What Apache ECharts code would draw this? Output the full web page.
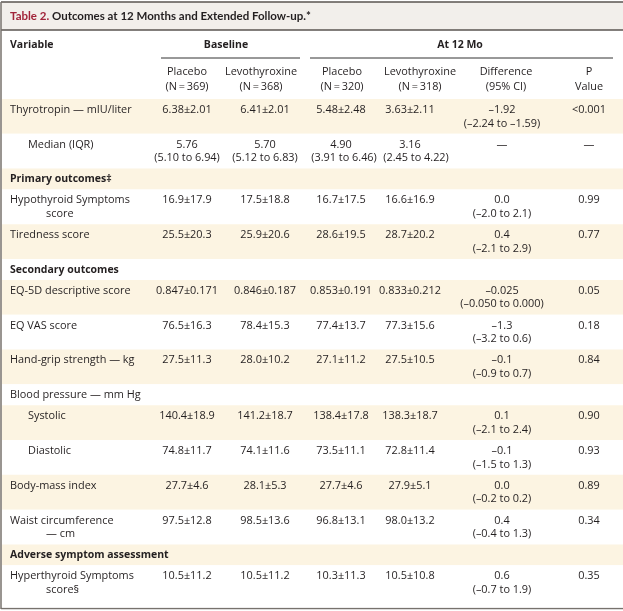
<!DOCTYPE html>
<html><head><meta charset="utf-8">
<script src="https://cdn.jsdelivr.net/npm/echarts@6/dist/echarts.min.js"></script>
<style>html,body{margin:0;padding:0;background:#fff}#chart{width:623px;height:611px}</style>
</head><body><div id="chart"></div>
<script>
// ---------- DATA ----------
const titleLead = "Table 2.";
const titleRest = " Outcomes at 12 Months and Extended Follow-up.*";
const variableHeader = "Variable";
const groupHeaders = ["Baseline", "At 12 Mo"];
const columnHeaders = [
  "Placebo\n(N\u2009=\u2009369)", "Levothyroxine\n(N\u2009=\u2009368)",
  "Placebo\n(N\u2009=\u2009320)", "Levothyroxine\n(N\u2009=\u2009318)",
  "Difference\n(95% CI)", "P\nValue"
];
const variables = [
  "Thyrotropin \u2014 mIU/liter", "Median (IQR)", "Primary outcomes\u2021",
  "Hypothyroid Symptoms\nscore", "Tiredness score", "Secondary outcomes",
  "EQ-5D descriptive score", "EQ VAS score", "Hand-grip strength \u2014 kg",
  "Blood pressure \u2014 mm Hg", "Systolic", "Diastolic", "Body-mass index",
  "Waist circumference\n\u2014 cm", "Adverse symptom assessment",
  "Hyperthyroid Symptoms\nscore\u00a7"
];
const rowKinds = ["data","sub","section","data","data","section","data","data","data",
  "group","sub","sub","data","data","section","data"];
const placeboBaseline = ["6.38\u00b12.01","5.76\n(5.10 to 6.94)","","16.9\u00b117.9","25.5\u00b120.3","",
  "0.847\u00b10.171","76.5\u00b116.3","27.5\u00b111.3","","140.4\u00b118.9","74.8\u00b111.7","27.7\u00b14.6",
  "97.5\u00b112.8","","10.5\u00b111.2"];
const levoBaseline = ["6.41\u00b12.01","5.70\n(5.12 to 6.83)","","17.5\u00b118.8","25.9\u00b120.6","",
  "0.846\u00b10.187","78.4\u00b115.3","28.0\u00b110.2","","141.2\u00b118.7","74.1\u00b111.6","28.1\u00b15.3",
  "98.5\u00b113.6","","10.5\u00b111.2"];
const placebo12 = ["5.48\u00b12.48","4.90\n(3.91 to 6.46)","","16.7\u00b117.5","28.6\u00b119.5","",
  "0.853\u00b10.191","77.4\u00b113.7","27.1\u00b111.2","","138.4\u00b117.8","73.5\u00b111.1","27.7\u00b14.6",
  "96.8\u00b113.1","","10.3\u00b111.3"];
const levo12 = ["3.63\u00b12.11","3.16\n(2.45 to 4.22)","","16.6\u00b116.9","28.7\u00b120.2","",
  "0.833\u00b10.212","77.3\u00b115.6","27.5\u00b110.5","","138.3\u00b118.7","72.8\u00b111.4","27.9\u00b15.1",
  "98.0\u00b113.2","","10.5\u00b110.8"];
const difference = ["\u20131.92\n(\u20132.24 to \u20131.59)","\u2014","","0.0\n(\u20132.0 to 2.1)","0.4\n(\u20132.1 to 2.9)","",
  "\u20130.025\n(\u20130.050 to 0.000)","\u20131.3\n(\u20133.2 to 0.6)","\u20130.1\n(\u20130.9 to 0.7)","",
  "0.1\n(\u20132.1 to 2.4)","\u20130.1\n(\u20131.5 to 1.3)","0.0\n(\u20130.2 to 0.2)","0.4\n(\u20130.4 to 1.3)","",
  "0.6\n(\u20130.7 to 1.9)"];
const pValue = ["<0.001","\u2014","","0.99","0.77","","0.05","0.18","0.84","","0.90","0.93","0.89","0.34","","0.35"];
const valueColumns = [placeboBaseline, levoBaseline, placebo12, levo12, difference, pValue];

// ---------- LAYOUT / STYLE ----------
const W = 623;
const FONT = '"Open Sans", "DejaVu Sans", sans-serif';
const TITLE_FONT = 'Lato, "Open Sans", sans-serif';
const FS = 10.9, FS_BOLD = 10.5, LH = 13.6;
const INK = '#231f20';
const CREAM = '#fcf4e2';
const L = {
  gridTop: 99, rowPx: 34.8,
  unit: {data: 1, sub: 1, section: 0.6, group: 0.6},
  labelX: {data: 10, sub: 28, section: 10, group: 10}, hangX: 46,
  valueX: [187, 265, 341, 410, 502, 589],
  valueX2: [187, 265, 344, 416, 502, 589],
  headerX: [187, 261, 342, 420, 506, 589],
  groupX: [226, 460], groupLine: [[161, 300], [310, 613]]
};
const rowStart = [];
let acc = 0;
rowKinds.forEach(k => { rowStart.push(acc); acc += L.unit[k]; });
const totalUnits = acc;

const bandData = rowKinds.map((k, i) => [0, rowStart[i], rowStart[i] + L.unit[k], i]);
const labelData = rowKinds.map((k, i) => [L.labelX[k], rowStart[i], i]);
const cellData = [];
valueColumns.forEach((col, c) => col.forEach((v, r) => { if (v) cellData.push([L.valueX[c], rowStart[r], r, c]); }));

function txt(x, y, text, o) {
  return {type: 'text', x: x, y: y, style: Object.assign({
    text: text, fill: INK, fontFamily: FONT, fontSize: FS, align: 'center',
    verticalAlign: 'top', lineHeight: LH}, o || {})};
}

const graphics = [
  {type: 'rect', shape: {x: 1, y: 2, width: W, height: 28}, style: {fill: '#f2efeb'}},
  {type: 'line', shape: {x1: 1, y1: 2, x2: W, y2: 2}, style: {stroke: '#5a5550', lineWidth: 1.5}},
  {type: 'line', shape: {x1: 1, y1: 30, x2: W, y2: 30}, style: {stroke: '#5a5550', lineWidth: 1.5}},
  {type: 'line', shape: {x1: 1, y1: 2, x2: 1, y2: 609}, style: {stroke: '#77726d', lineWidth: 1.5}},
  {type: 'line', shape: {x1: 1, y1: 608.5, x2: W, y2: 608.5}, style: {stroke: '#77726d', lineWidth: 1.5}},
  {type: 'text', x: 10, y: 16, style: {rich: {a: {fill: '#a1243a', fontWeight: 'bold', fontFamily: TITLE_FONT, fontSize: 11.5},
     b: {fill: INK, fontWeight: 'bold', fontFamily: TITLE_FONT, fontSize: 11.5}},
     text: '{a|' + titleLead + '}{b|' + titleRest + '}', align: 'left', verticalAlign: 'middle'}},
  txt(10, 38, variableHeader, {align: 'left', fontWeight: 'bold', fontSize: FS_BOLD})
];
groupHeaders.forEach((g, i) => {
  graphics.push(txt(L.groupX[i], 38, g, {fontWeight: 'bold', fontSize: FS_BOLD}));
  graphics.push({type: 'line', shape: {x1: L.groupLine[i][0], y1: 58, x2: L.groupLine[i][1], y2: 58},
    style: {stroke: '#333', lineWidth: 1}});
});
columnHeaders.forEach((h, i) => graphics.push(txt(L.headerX[i], 65, h, {lineHeight: 14.5})));

const chart = echarts.init(document.getElementById('chart'), null, {renderer: 'canvas'});
chart.setOption({
  animation: false,
  backgroundColor: '#fff',
  grid: {left: 0, right: 0, top: L.gridTop, height: totalUnits * L.rowPx, containLabel: false},
  xAxis: {type: 'value', min: 0, max: W, show: false},
  yAxis: {type: 'value', min: 0, max: totalUnits, inverse: true, show: false},
  graphic: graphics,
  series: [
    {type: 'custom', clip: false, z: 1, data: bandData, encode: {x: 0, y: [1, 2]},
     renderItem: function (p, api) {
       const a = api.coord([0, api.value(1)]);
       const last = api.value(3) === rowKinds.length - 1;
       const b = api.coord([W, api.value(2)]);
       return {type: 'rect', shape: {x: a[0] + 2, y: a[1], width: b[0] - a[0] - 2,
         height: (last ? 607.5 - a[1] : b[1] - a[1])},
         style: {fill: api.value(3) % 2 === 0 ? CREAM : '#ffffff'}};
     }},
    {type: 'custom', clip: false, z: 3, data: labelData, encode: {x: 0, y: 1},
     renderItem: function (p, api) {
       const r = api.value(2);
       const pt = api.coord([api.value(0), api.value(1)]);
       const hang = api.coord([L.hangX, api.value(1)]);
       const kind = rowKinds[r];
       const lines = variables[r].split('\n');
       const bold = kind === 'section';
       const children = lines.map((ln, j) => txt(j === 0 ? pt[0] : hang[0], pt[1] + 4 + j * LH, ln,
         {align: 'left', fontWeight: bold ? 'bold' : 'normal', fontSize: bold ? FS_BOLD : FS}));
       return {type: 'group', children: children};
     }},
    {type: 'custom', clip: false, z: 3, data: cellData, encode: {x: 0, y: 1},
     renderItem: function (p, api) {
       const r = api.value(2), c = api.value(3);
       const pt = api.coord([api.value(0), api.value(1)]);
       const pt2 = api.coord([L.valueX2[c], api.value(1)]);
       const lines = valueColumns[c][r].split('\n');
       return {type: 'group', children: lines.map((ln, j) =>
         txt(j === 0 ? pt[0] : pt2[0], pt[1] + 4 + j * LH, ln))};
     }}
  ]
});
</script></body></html>
